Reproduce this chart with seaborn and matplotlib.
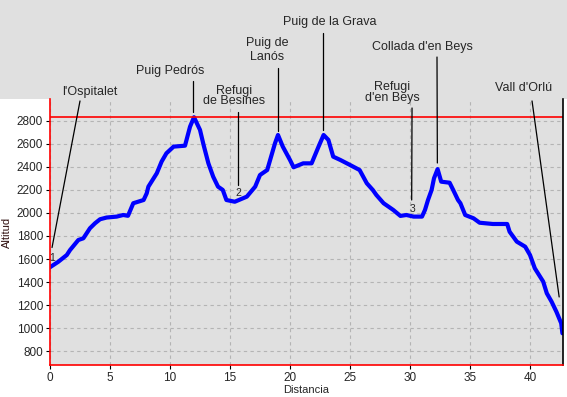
import matplotlib
matplotlib.use("Agg")
import matplotlib.pyplot as plt
from matplotlib.patches import Rectangle
import numpy as np
import pandas as pd
import seaborn as sns

# perfil: distancia (km) y altitud (m)
distancia = [0, 0.7, 1.4, 1.67, 2.36, 2.78, 3.33, 3.75, 4.17, 4.72, 5.56, 6.1, 6.5, 6.94,
             7.8, 8.06, 8.2, 8.9, 9.3, 9.7, 10.3, 11.25, 11.67, 12.0, 12.5, 12.8, 13.2,
             13.6, 14.0, 14.4, 14.7, 15.4, 16.4, 17.1, 17.5, 18.1, 18.75, 19.0, 19.4,
             20.0, 20.3, 21.1, 21.8, 22.4, 22.8, 23.2, 23.6, 24.2, 25.0, 25.8, 26.4,
             26.9, 27.2, 27.8, 28.6, 29.2, 29.7, 30.3, 31.0, 31.25, 31.5, 31.8, 32.0,
             32.3, 32.6, 33.3, 33.6, 34.0, 34.2, 34.6, 35.3, 35.8, 36.9, 38.1, 38.3,
             38.9, 39.6, 40.0, 40.4, 41.1, 41.4, 41.8, 42.2, 42.6, 42.7]
altitud = [1529, 1577, 1635, 1678, 1765, 1780, 1867, 1910, 1945, 1960, 1968, 1982, 1975, 2084,
           2112, 2170, 2228, 2344, 2445, 2517, 2575, 2583, 2748, 2830, 2720, 2589, 2430,
           2314, 2228, 2199, 2112, 2097, 2141, 2228, 2329, 2372, 2604, 2676, 2575,
           2459, 2396, 2430, 2430, 2580, 2676, 2633, 2488, 2459, 2416, 2372, 2257,
           2199, 2155, 2084, 2026, 1974, 1982, 1968, 1968, 2026, 2112, 2199, 2300,
           2380, 2271, 2262, 2199, 2112, 2084, 1982, 1953, 1915, 1904, 1904, 1837,
           1751, 1707, 1635, 1520, 1404, 1303, 1230, 1143, 1043, 956]

# puntos de paso: texto, punto (km, alt) y origen de la linea (km, alt)
nombres = ["l'Ospitalet", "Puig Pedrós", "Refugi\nde Besines", "Puig de\nLanós",
           "Puig de la Grava", "Refugi\nd'en Beys", "Collada d'en Beys", "Vall d'Orlú"]
punto_km = [0.17, 11.92, 15.67, 19.0, 22.75, 30.14, 32.28, 42.43]
punto_alt = [1700, 2875, 2242, 2711, 2719, 2112, 2433, 1271]
linea_km = [2.5, 11.92, 15.67, 19.0, 22.75, 30.17, 32.25, 40.17]
linea_alt = [2971, 3144, 2875, 3257, 3561, 2910, 3352, 2971]
texto_km = [3.33, 10.0, 15.33, 18.08, 23.29, 28.5, 31.0, 39.5]
texto_alt = [3048, 3231, 3015, 3410, 3656, 3045, 3439, 3084]
interlineado = [1.0, 1.0, 0.85, 1.2, 1.0, 0.85, 1.0, 1.0]

refugios = ["1", "2", "3"]
refugio_km = [0.18, 15.67, 30.17]
refugio_alt = [1609, 2173, 2034]

df = pd.DataFrame({"Distancia": distancia, "Altitud": altitud})

gris = "#e0e0e0"
sns.set_style("whitegrid", {"axes.facecolor": gris, "grid.color": "#b4b4b4",
                            "grid.linestyle": (0, (3, 3))})
plt.rcParams["font.family"] = ["Liberation Sans", "DejaVu Sans"]

W, H = 567, 397
fig = plt.figure(figsize=(W / 100, H / 100), dpi=100)
fig.patch.set_facecolor("white")
fig.patches.append(Rectangle((0, 1 - 99 / H), 1, 99 / H, transform=fig.transFigure,
                             facecolor=gris, edgecolor="none", zorder=-5))
ax = fig.add_axes([50 / W, (H - 365) / H, 513 / W, 266 / H])
ax.set_zorder(2)

sns.lineplot(data=df, x="Distancia", y="Altitud", ax=ax, color="#0000ff", lw=3.0,
             zorder=3)
ax.axhline(df["Altitud"].max(), color="#ff0000", lw=1.2, zorder=4)

ax.set_xlim(0, 42.75)
ax.set_ylim(681, 2988)
ax.set_xticks(np.arange(0, 45, 5))
ax.set_yticks(np.arange(800, 3000, 200))
ax.grid(True, lw=0.8)
ax.tick_params(axis="both", length=3, width=0.8, color="black", labelsize=8.5,
               pad=2, left=True, bottom=True)
ax.set_xlabel("Distancia", fontsize=8, labelpad=1)
ax.set_ylabel("Altitud", fontsize=8, color="#301010", labelpad=3)

ax.spines["top"].set_visible(False)
ax.spines["left"].set_color("#ff0000")
ax.spines["bottom"].set_color("#ff0000")
ax.spines["right"].set_color("black")
for s in ["left", "bottom", "right"]:
    ax.spines[s].set_linewidth(1.2)
    ax.spines[s].set_zorder(5)

for nom, pk, pa, lk, la, tk, ta, ls in zip(nombres, punto_km, punto_alt, linea_km,
                                           linea_alt, texto_km, texto_alt, interlineado):
    ax.plot([lk, pk], [la, pa], color="black", lw=0.9, clip_on=False, zorder=6)
    ax.text(tk, ta, nom, ha="center", va="center", multialignment="center",
            fontsize=9, linespacing=ls, clip_on=False)

for r, rk, ra in zip(refugios, refugio_km, refugio_alt):
    ax.text(rk, ra, r, ha="center", va="center", fontsize=7.5, zorder=7)

fig.savefig("out.png", dpi=100)
